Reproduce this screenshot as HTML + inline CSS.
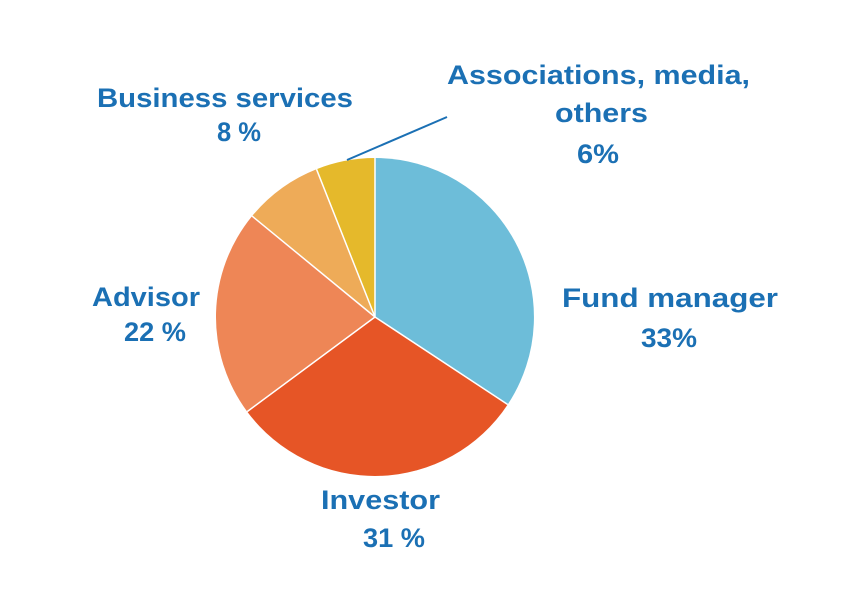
<!DOCTYPE html>
<html><head><meta charset="utf-8"><style>
html,body{margin:0;padding:0;background:#fff;}
svg text{font-family:"Liberation Sans",sans-serif;font-weight:bold;fill:#1b70b4;font-size:27px;}
</style></head><body>
<svg width="849" height="595" viewBox="0 0 849 595" xmlns="http://www.w3.org/2000/svg">
<g transform="translate(375,317)">
<path d="M0,0 L0,-159 A159,159 0 0,1 132.7,87.5 Z" fill="#6dbdd9"/>
<path d="M0,0 L132.7,87.5 A159,159 0 0,1 -127.8,94.6 Z" fill="#e65526"/>
<path d="M0,0 L-127.8,94.6 A159,159 0 0,1 -122.9,-100.9 Z" fill="#ee8656"/>
<path d="M0,0 L-122.9,-100.9 A159,159 0 0,1 -58.5,-147.8 Z" fill="#eeab58"/>
<path d="M0,0 L-58.5,-147.8 A159,159 0 0,1 0,-159 Z" fill="#e5b92b"/>
<g stroke="#fff" stroke-width="1.5">
<line x1="0" y1="0" x2="0" y2="-159"/><line x1="0" y1="0" x2="132.7" y2="87.5"/><line x1="0" y1="0" x2="-127.8" y2="94.6"/><line x1="0" y1="0" x2="-122.9" y2="-100.9"/><line x1="0" y1="0" x2="-58.5" y2="-147.8"/>
</g>
</g>
<line x1="347" y1="160" x2="447" y2="117" stroke="#1b70b4" stroke-width="2"/>
<text x="97" y="107" textLength="256" lengthAdjust="spacingAndGlyphs">Business services</text>
<text x="217" y="141" textLength="44" lengthAdjust="spacingAndGlyphs">8 %</text>
<text x="447" y="84" textLength="303" lengthAdjust="spacingAndGlyphs">Associations, media,</text>
<text x="555" y="122" textLength="93" lengthAdjust="spacingAndGlyphs">others</text>
<text x="577" y="163" textLength="42" lengthAdjust="spacingAndGlyphs">6%</text>
<text x="562" y="307" textLength="216" lengthAdjust="spacingAndGlyphs">Fund manager</text>
<text x="641" y="347" textLength="56" lengthAdjust="spacingAndGlyphs">33%</text>
<text x="92" y="306" textLength="108" lengthAdjust="spacingAndGlyphs">Advisor</text>
<text x="124" y="341" textLength="62" lengthAdjust="spacingAndGlyphs">22 %</text>
<text x="321" y="509" textLength="119" lengthAdjust="spacingAndGlyphs">Investor</text>
<text x="363" y="547" textLength="62" lengthAdjust="spacingAndGlyphs">31 %</text>
</svg>
</body></html>
